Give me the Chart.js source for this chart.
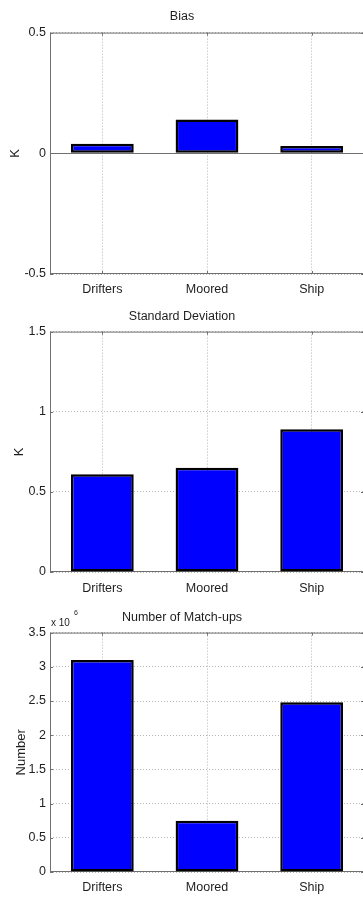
<!DOCTYPE html>
<html>
<head>
<meta charset="utf-8">
<script src="https://cdn.jsdelivr.net/npm/chart.js@4.4.0/dist/chart.umd.min.js"></script>
<style>
  html, body { margin: 0; padding: 0; background: #fff; overflow: hidden; width: 363px; height: 898px; }
  .panel { position: absolute; left: 0; width: 364px; }
  canvas { display: block; }
</style>
</head>
<body>
<div class="panel" style="top:0;height:300px"><canvas id="biasChart" width="364" height="300"></canvas></div>
<div class="panel" style="top:300px;height:300px"><canvas id="stdChart" width="364" height="300"></canvas></div>
<div class="panel" style="top:600px;height:298px"><canvas id="countChart" width="364" height="298"></canvas></div>

<script>
// Match-up statistics per in situ platform type
const categories = ['Drifters', 'Moored', 'Ship'];

const biasK = [0.04, 0.14, 0.03];
const stdDevK = [0.61, 0.65, 0.89];
const matchupCount = [3100000, 750000, 2480000];

const biasTicks = [-0.5, 0, 0.5];
const stdDevTicks = [0, 0.5, 1, 1.5];
const countTicks = [0, 500000, 1000000, 1500000, 2000000, 2500000, 3000000, 3500000];
const countExponent = 6;

const FONT = '"Liberation Sans", Arial, Helvetica, sans-serif';
const TEXT = '#1e1e1e';
const FRAME = '#707070';
const GRID = '#b4b4b4';

// Box, inward tick marks, zero baseline and axis exponent in the MATLAB style
const matlabAxes = {
  id: 'matlabAxes',
  beforeDatasetsDraw(chart, args, opts) {
    const { ctx, chartArea: a, scales: { x, y } } = chart;
    ctx.save();
    ctx.strokeStyle = FRAME;
    ctx.lineWidth = 1;
    // zero baseline of the bars
    if (y.min < 0 && y.max > 0) {
      const py = Math.round(y.getPixelForValue(0)) + 0.5;
      ctx.beginPath();
      ctx.moveTo(a.left, py);
      ctx.lineTo(a.right, py);
      ctx.stroke();
    }
    // axes box
    ctx.strokeRect(a.left + 0.5, a.top + 0.5, a.right - a.left - 1, a.bottom - a.top - 1);
    // inward ticks
    const len = 3;
    ctx.beginPath();
    y.ticks.forEach(t => {
      const py = Math.round(y.getPixelForValue(t.value)) + 0.5;
      ctx.moveTo(a.left, py); ctx.lineTo(a.left + len, py);
      ctx.moveTo(a.right, py); ctx.lineTo(a.right - len, py);
    });
    x.ticks.forEach((t, i) => {
      const px = Math.round(x.getPixelForTick(i)) + 0.5;
      ctx.moveTo(px, a.bottom); ctx.lineTo(px, a.bottom - len);
      ctx.moveTo(px, a.top); ctx.lineTo(px, a.top + len);
    });
    ctx.stroke();
    ctx.restore();
  },
  afterDraw(chart, args, opts) {
    if (!opts.exponent) return;
    const { ctx, chartArea: a } = chart;
    ctx.save();
    ctx.fillStyle = TEXT;
    ctx.textBaseline = 'middle';
    ctx.textAlign = 'left';
    ctx.font = '10px ' + FONT;
    const base = 'x 10';
    ctx.fillText(base, a.left + 1, a.top - 9.5);
    const w = ctx.measureText(base).width;
    ctx.font = '7px ' + FONT;
    ctx.fillText(String(opts.exponent), a.left + 2 + w + 3, a.top - 19.5);
    ctx.restore();
  }
};

function makeChart(id, cfg) {
  const divisor = cfg.divisor || 1;
  return new Chart(document.getElementById(id), {
    type: 'bar',
    data: {
      labels: categories,
      datasets: [{
        data: cfg.values,
        backgroundColor: '#0000ff',
        borderColor: '#000000',
        borderWidth: 2.5,
        borderSkipped: false,
        barPercentage: 0.6,
        categoryPercentage: 1.0
      }]
    },
    plugins: [matlabAxes],
    options: {
      responsive: false,
      animation: false,
      layout: { padding: { left: 0, right: 0, top: 0, bottom: 0 } },
      plugins: {
        legend: { display: false },
        tooltip: { enabled: false },
        title: {
          display: true,
          text: cfg.title,
          color: TEXT,
          font: { family: FONT, size: 12.5, weight: 'normal' },
          padding: { top: cfg.titleTop, bottom: cfg.titleBottom }
        },
        matlabAxes: { exponent: cfg.exponent || 0 }
      },
      scales: {
        x: {
          offset: true,
          grid: { display: true, offset: false, color: GRID, drawTicks: false, lineWidth: 1 },
          border: { display: false, dash: [1, 2] },
          ticks: { color: TEXT, font: { family: FONT, size: 12.5 }, padding: cfg.xPad, maxRotation: 0 },
          afterFit(scale) { scale.height = cfg.xHeight; }
        },
        y: {
          min: cfg.ticks[0],
          max: cfg.ticks[cfg.ticks.length - 1],
          afterBuildTicks(scale) { scale.ticks = cfg.ticks.map(v => ({ value: v })); },
          grid: { display: true, color: GRID, drawTicks: false, lineWidth: 1 },
          border: { display: false, dash: [1, 2] },
          ticks: {
            color: TEXT,
            font: { family: FONT, size: 12.5 },
            padding: 4,
            callback: v => String(Math.round(v / divisor * 1000) / 1000)
          },
          title: {
            display: true,
            text: cfg.yLabel,
            color: TEXT,
            font: { family: FONT, size: 13 },
            padding: { top: cfg.yTitlePad, bottom: 0 }
          },
          afterFit(scale) { scale.width = 50; }
        }
      }
    }
  });
}

makeChart('biasChart', {
  title: 'Bias', values: biasK, ticks: biasTicks, yLabel: 'K',
  titleTop: 9, titleBottom: 8.6, xHeight: 26, xPad: 8, yTitlePad: 8
});
makeChart('stdChart', {
  title: 'Standard Deviation', values: stdDevK, ticks: stdDevTicks, yLabel: 'K',
  titleTop: 9, titleBottom: 7.6, xHeight: 28, xPad: 9, yTitlePad: 12
});
makeChart('countChart', {
  title: 'Number of Match-ups', values: matchupCount, ticks: countTicks, yLabel: 'Number',
  titleTop: 10, titleBottom: 7.6, xHeight: 26, xPad: 8, yTitlePad: 14,
  divisor: Math.pow(10, countExponent), exponent: countExponent
});
</script>
</body>
</html>
